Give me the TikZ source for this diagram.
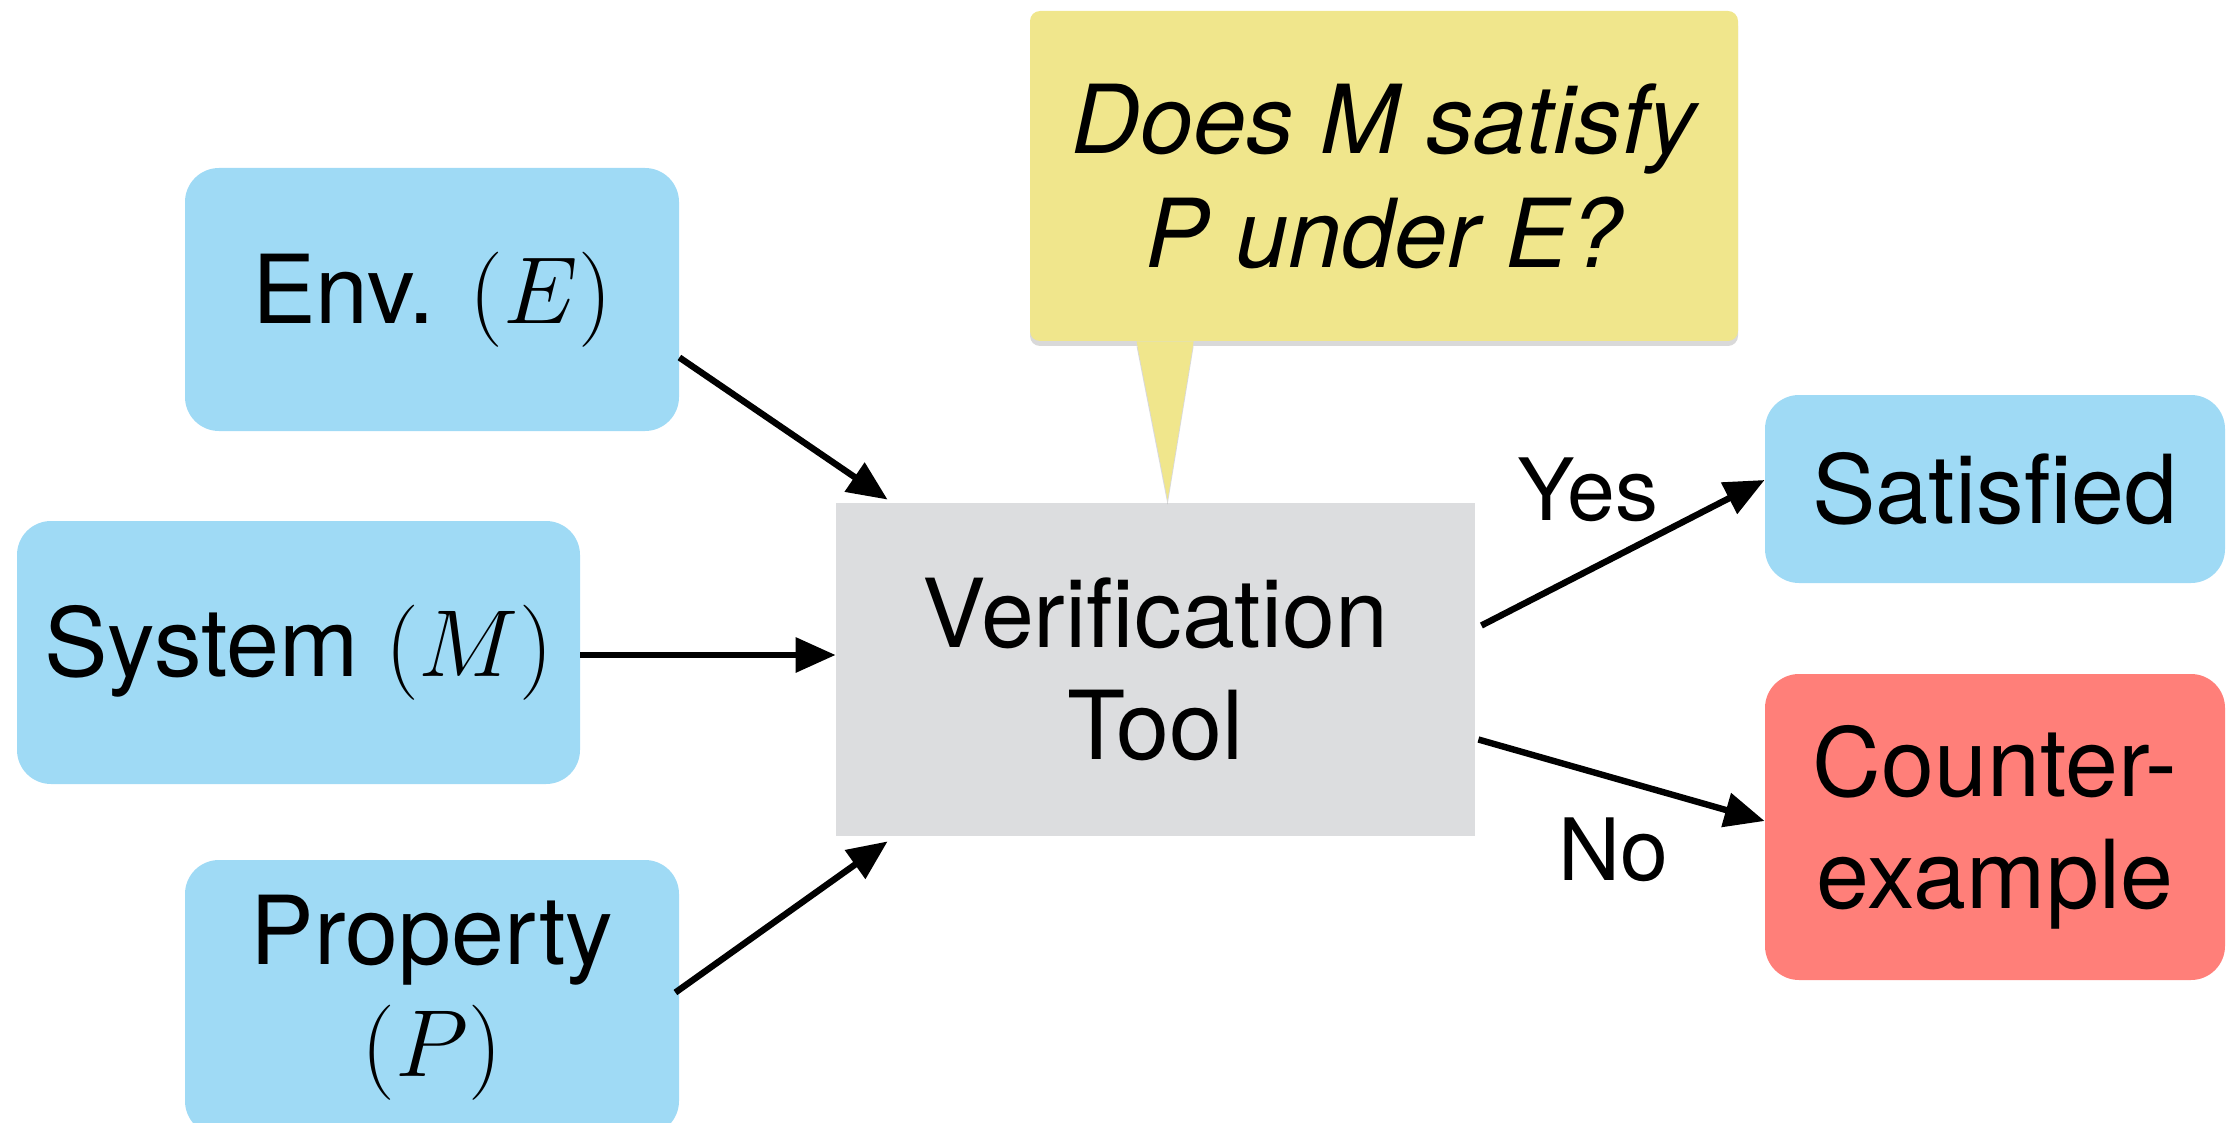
\RequirePackage{fix-cm}
\documentclass[tikz,border=0pt]{standalone}
\usepackage{fontspec}
\setmainfont{TeX Gyre Heros}
\usetikzlibrary{arrows.meta,shadows,calc}
\definecolor{inblue}{HTML}{9FDAF5}
\definecolor{toolgray}{HTML}{DCDDDF}
\definecolor{askyellow}{HTML}{F0E68C}
\definecolor{failred}{HTML}{FF7F79}
\begin{document}
\begin{tikzpicture}[x=0.5pt,y=-0.5pt,
  font=\fontsize{47.6}{56}\selectfont,
  box/.style={inner sep=0pt,align=center},
  inbox/.style={box,fill=inblue,rounded corners=17pt},
  flow/.style={line width=3.2pt,-{Triangle[length=20pt,width=17pt]}},
  shade/.style={drop shadow={shadow xshift=0pt,shadow yshift=-2.5pt,opacity=0.25,fill=black!60}}]
\useasboundingbox (0,0) rectangle (2228,1123);

% inputs
\node[inbox,minimum width=247pt,minimum height=131.5pt] (env) at (432,299.5) {Env. $(E)$};
\node[inbox,minimum width=281.5pt,minimum height=131.5pt] (sys) at (298.5,652.5) {System $(M)$};
\node[inbox,minimum width=247pt,minimum height=137.5pt] (prop) at (432,997.5) {Property\\$(P)$};

% tool
\node[box,fill=toolgray,minimum width=319.5pt,minimum height=166.5pt] (ver) at (1155.5,669.5) {Verification\\Tool};

% outcomes
\node[inbox,minimum width=230pt,minimum height=94pt] (sat) at (1995,489) {Satisfied};
\node[inbox,fill=failred,minimum width=230pt,minimum height=153pt] (cex) at (1995,827) {Counter-\\example};

% question bubble
\node[box,fill=askyellow,rounded corners=5pt,shade,minimum width=354pt,minimum height=165pt,font=\fontsize{47.6}{57}\selectfont\itshape] (ask) at (1384,176) {Does M satisfy\\P under E?};
\coordinate (tip) at ($(ver.north west)+(332,-3)$);
\fill[askyellow,shade] ($(ask.south west)+(107,0)$) -- (tip) -- ($(ask.south west)+(164,0)$) -- cycle;

% connectors
\draw[flow] ($(env.east)+(0,58)$) -- ($(ver.north west)+(52,-3)$);
\draw[flow] ($(sys.east)+(0,2.5)$) -- ($(ver.west)+(0,-14.5)$);
\draw[flow] ($(prop.east)+(-4,-5)$) -- ($(ver.south west)+(52,5)$);
\draw[flow] ($(ver.east)+(6,-44)$) -- ($(sat.west)+(0,-9)$);
\draw[flow] ($(ver.east)+(3,70)$) -- ($(cex.west)+(0,-6)$);

% branch labels
\node[box,font=\fontsize{43}{50}\selectfont] (yes) at (1588,490) {Yes};
\node[box,font=\fontsize{43}{50}\selectfont] (no) at (1613,850) {No};
\end{tikzpicture}
\end{document}
